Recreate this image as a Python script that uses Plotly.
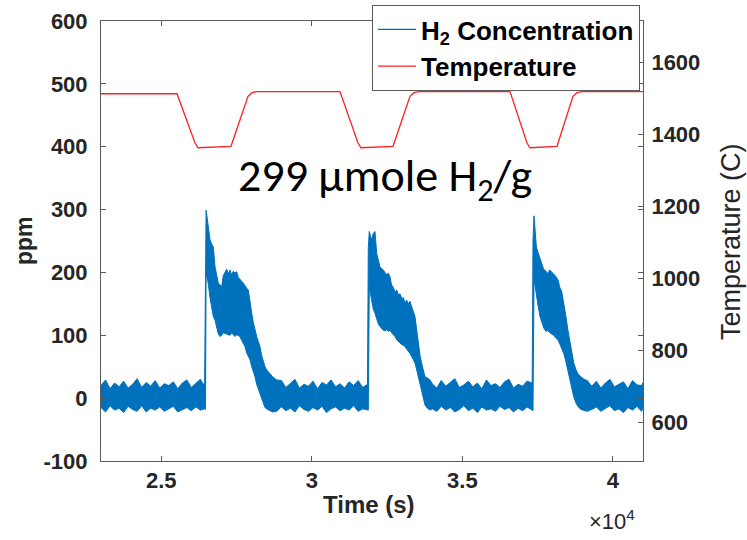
import plotly.graph_objects as go

# ---------------- data ----------------
# H2 concentration noise envelope (ppm)
h2_time = [
    23000, 23150, 23300, 23450, 23600, 23750, 23900, 24050, 24200, 24350, 24500, 24650,
    24800, 24950, 25100, 25250, 25400, 25550, 25700, 25850, 26000, 26150, 26300, 26440,
    26470, 26490, 26530, 26560, 26620, 26676, 26729, 26786, 26850, 26896, 26952, 27008,
    27060, 27118, 27174, 27230, 27284, 27340, 27394, 27450, 27507, 27560, 27616, 27670,
    27726, 27782, 27838, 27892, 27948, 28005, 28060, 28114, 28170, 28225, 28280, 28335,
    28390, 28446, 28500, 28560, 28612, 28700, 28835,
    28990, 29140, 29290, 29440, 29590, 29740, 29890, 30040, 30190, 30340, 30490, 30640,
    30790, 30940, 31090, 31240, 31390, 31540, 31690, 31850,
    31877, 31910, 31950, 31990, 32040, 32099, 32156, 32210, 32266, 32320, 32375, 32430,
    32490, 32540, 32598, 32650, 32710, 32764, 32820, 32875, 32930, 32990, 33040, 33096,
    33150, 33210, 33262, 33320, 33375, 33428, 33480, 33538, 33595, 33650, 33705, 33760,
    33840, 33926,
    34000, 34150, 34300, 34450, 34600, 34750, 34900, 35050, 35200, 35350, 35500, 35650,
    35800, 35950, 36100, 36250, 36400, 36550, 36700, 36850, 37000, 37150,
    37320, 37347, 37380, 37420, 37460, 37513, 37579, 37640, 37700, 37778, 37840, 37900,
    37978, 38040, 38100, 38177, 38240, 38300, 38376, 38440, 38500, 38575, 38640, 38700,
    38775, 38850, 38940, 39040, 39150,
    39300, 39450, 39600, 39750, 39900, 40050, 40200, 40350, 40500, 40650, 40800, 40950, 41000,
]
h2_upper = [
    20, 29, 15, 24, 18, 27, 16, 22, 31, 17, 25, 19,
    28, 16, 23, 20, 26, 15, 24, 29, 17, 23, 30, 19,
    250, 299, 285, 274, 252, 245, 241, 209, 195, 183, 180, 177,
    195, 201, 205, 198, 204, 196, 202, 199, 201, 192, 188, 186,
    183, 178, 175, 172, 150, 135, 120, 108, 98, 90, 82, 68,
    58, 50, 45, 42, 39, 34, 29,
    28, 17, 24, 30, 16, 22, 19, 27, 15, 25, 21, 29,
    18, 23, 16, 26, 20, 28, 17, 22,
    240, 265, 258, 252, 262, 265, 230, 218, 209, 206, 204, 200,
    196, 199, 193, 180, 176, 169, 172, 164, 166, 158, 160, 151,
    156, 150, 154, 145, 138, 130, 110, 84, 68, 55, 42, 34,
    32, 29,
    23, 16, 28, 19, 25, 31, 17, 21, 27, 18, 24, 15,
    29, 20, 23, 17, 26, 30, 16, 22, 19, 27,
    24, 250, 290, 262, 240, 232, 222, 214, 205, 202, 198, 204,
    200, 197, 194, 188, 176, 170, 150, 130, 110, 88, 70, 56,
    45, 38, 34, 30, 28,
    19, 27, 16, 24, 30, 18, 22, 26, 15, 28, 21, 20, 25,
]
h2_lower = [
    -15, -22, -12, -19, -16, -23, -13, -18, -21, -12, -22, -16,
    -19, -14, -21, -17, -13, -22, -18, -15, -20, -14, -19, -17,
    -18, 200, 190, 183, 160, 140, 130, 124, 110, 102, 98, 100,
    104, 103, 103, 101, 100, 104, 100, 98, 101, 99, 98, 92,
    86, 82, 72, 66, 61, 50, 42, 34, 22, 14, 7, -2,
    -10, -15, -17, -19, -20, -22, -21,
    -14, -20, -16, -22, -12, -18, -21, -15, -19, -13, -23, -17,
    -14, -20, -16, -19, -12, -21, -17, -18,
    -19, 177, 165, 151, 142, 135, 125, 118, 114, 110, 108, 107,
    109, 106, 108, 104, 101, 98, 93, 90, 87, 85, 84, 82,
    78, 75, 71, 66, 62, 56, 46, 34, 20, 8, -3, -11,
    -16, -19,
    -17, -21, -13, -19, -15, -22, -18, -12, -20, -16, -23, -14,
    -19, -17, -21, -13, -18, -15, -22, -16, -20, -14,
    -19, -20, 190, 175, 160, 148, 130, 120, 112, 106, 108, 104,
    102, 100, 96, 92, 86, 80, 70, 58, 44, 28, 14, 2,
    -8, -14, -18, -20, -21,
    -18, -14, -21, -16, -12, -20, -17, -23, -15, -19, -13, -21, -16,
]

# Furnace temperature profile (C)
temp_time = [23000, 25524, 26122, 26221, 27317, 27882, 28015, 28181,
             30937, 31535, 31635, 32697, 33262, 33395, 33561,
             36583, 37148, 37247, 38144, 38675, 38808, 38974, 41000]
temp_vals = [1512, 1512, 1375, 1362, 1366, 1505, 1515, 1518,
             1518, 1375, 1362, 1366, 1505, 1515, 1518,
             1518, 1375, 1362, 1366, 1505, 1515, 1518, 1518]

x_tickvals = [25000, 30000, 35000, 40000]
x_ticktext = ["2.5", "3", "3.5", "4"]
y_tickvals = [-100, 0, 100, 200, 300, 400, 500, 600]
y_ticktext = ["-100", "0", "100", "200", "300", "400", "500", "600"]
y2_tickvals = [600, 800, 1000, 1200, 1400, 1600]

BLUE = "#0072BD"
RED = "#FF2020"
AX = "#5a5a5a"
TXT = "#262626"
FONT = "Liberation Sans, Arial, sans-serif"

# plot-area geometry in pixels (for placing titles as annotations)
L, R, T, B = 101, 643, 21, 461
W, H = R - L, B - T


def px(xp):
    return (xp - L) / W


def py(yp):
    return (B - yp) / H


fig = go.Figure()

fig.add_trace(go.Scatter(x=h2_time, y=h2_lower, mode="lines",
                         line=dict(color=BLUE, width=1), showlegend=False,
                         hoverinfo="skip"))
fig.add_trace(go.Scatter(x=h2_time, y=h2_upper, mode="lines", fill="tonexty",
                         fillcolor=BLUE, line=dict(color=BLUE, width=1),
                         showlegend=False, hoverinfo="skip"))
# legend entry for H2 (line icon)
fig.add_trace(go.Scatter(x=[None], y=[None], mode="lines",
                         line=dict(color=BLUE, width=1.2),
                         name="H<sub>2</sub> Concentration", legendgroup="a"))
fig.add_trace(go.Scatter(x=temp_time, y=temp_vals, mode="lines", yaxis="y2",
                         line=dict(color=RED, width=1.3),
                         name="Temperature", legendgroup="b"))

tickfont = dict(family=FONT, size=22, color=TXT, weight="bold")

fig.update_layout(
    template="none",
    width=747, height=540,
    margin=dict(l=L, r=747 - R, t=T, b=540 - B, autoexpand=False),
    paper_bgcolor="white", plot_bgcolor="white",
    xaxis=dict(range=[23000, 41000], tickvals=x_tickvals, ticktext=x_ticktext,
               ticks="inside", ticklen=5, tickcolor=AX, tickwidth=1,
               showline=True, linecolor=AX, linewidth=1, mirror="ticks",
               showgrid=False, zeroline=False, tickfont=tickfont,
               ticklabelstandoff=0, automargin=False),
    yaxis=dict(range=[-100, 600], tickvals=y_tickvals, ticktext=y_ticktext,
               ticks="inside", ticklen=5, tickcolor=AX, tickwidth=1,
               showline=True, linecolor=AX, linewidth=1, mirror="ticks",
               showgrid=False, zeroline=False, tickfont=tickfont,
               ticklabelstandoff=8, automargin=False),
    yaxis2=dict(range=[492, 1714], tickvals=y2_tickvals, overlaying="y", side="right",
                ticks="inside", ticklen=5, tickcolor=AX, tickwidth=1,
                showline=True, linecolor=AX, linewidth=1,
                showgrid=False, zeroline=False, tickfont=tickfont,
                ticklabelstandoff=3, automargin=False),
    legend=dict(xref="container", yref="container", x=372 / 747, y=1 - 5 / 540,
                xanchor="left", yanchor="top",
                bgcolor="white", bordercolor=AX, borderwidth=1,
                font=dict(family=FONT, size=26, color="black", weight="bold"),
                itemwidth=38,
                tracegroupgap=0, traceorder="grouped"),
    annotations=[
        dict(text="ppm", xref="paper", yref="paper", x=px(24), y=py(241),
             xanchor="center", yanchor="middle", textangle=-90, showarrow=False,
             font=dict(family=FONT, size=23, color=TXT, weight="bold")),
        dict(text="Temperature (C)", xref="paper", yref="paper", x=px(731), y=py(242),
             xanchor="center", yanchor="middle", textangle=-90, showarrow=False,
             font=dict(family=FONT, size=27, color=TXT)),
        dict(text="Time (s)", xref="paper", yref="paper", x=px(369), y=py(504),
             xanchor="center", yanchor="middle", showarrow=False,
             font=dict(family=FONT, size=24, color=TXT, weight="bold")),
        dict(text="299 µmole H<sub>2</sub>/g", xref="paper", yref="paper",
             x=px(385), y=py(178), xanchor="center", yanchor="middle", showarrow=False,
             font=dict(family="Carlito, Lato, sans-serif", size=46, color="black")),
        dict(text="×10<sup>4</sup>", xref="paper", yref="paper",
             x=px(612), y=py(520), xanchor="center", yanchor="middle", showarrow=False,
             font=dict(family=FONT, size=22, color=TXT)),
    ],
)

fig.write_html("out.html", config={"displayModeBar": False},
               post_script="document.body.style.margin='0px';")
